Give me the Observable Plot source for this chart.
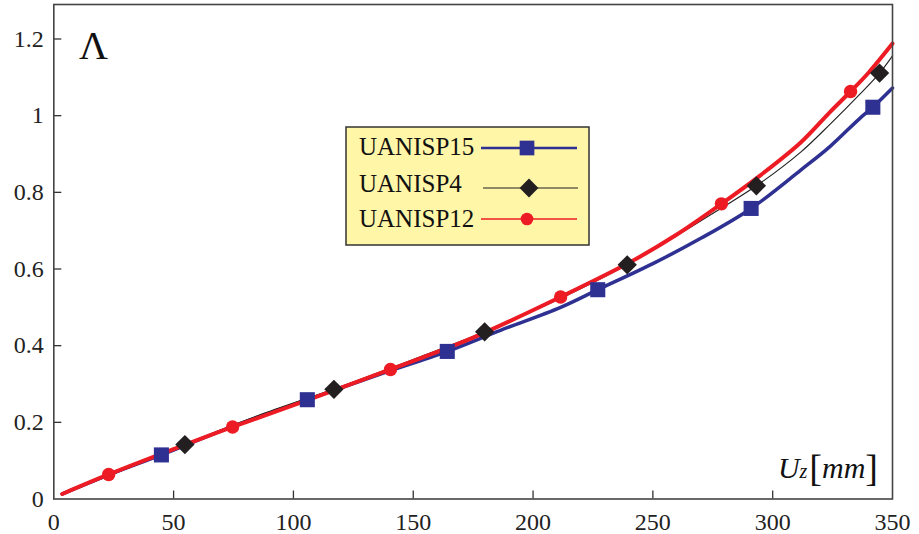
<!DOCTYPE html>
<html><head><meta charset="utf-8">
<script src="https://cdn.jsdelivr.net/npm/d3@7"></script>
<script src="https://cdn.jsdelivr.net/npm/@observablehq/plot@0.6"></script>
<style>
body{margin:0;background:#fff}
#chart{position:relative;width:919px;height:534px}
</style>
</head><body><div id="chart"></div>
<script>
// ---- data ----
const seriesNames = ["UANISP15", "UANISP4", "UANISP12"];

const uanisp15LineX = [3.5, 25, 44.9, 75, 105.8, 136, 164.2, 186.4, 211.5, 227, 250, 270, 291, 311.7, 324, 336.7, 341.8, 350];
const uanisp15LineY = [0.013, 0.068, 0.115, 0.190, 0.259, 0.325, 0.385, 0.440, 0.500, 0.546, 0.614, 0.680, 0.758, 0.858, 0.920, 0.995, 1.022, 1.072];
const uanisp15MarkX = [44.9, 105.8, 164.2, 227, 291, 341.8];
const uanisp15MarkY = [0.115, 0.259, 0.385, 0.546, 0.758, 1.022];

const uanisp4LineX = [3.5, 30, 54.7, 85, 116.9, 150, 179.8, 211, 239.3, 260, 275, 293.2, 311.7, 324, 336.7, 344.6, 350];
const uanisp4LineY = [0.013, 0.078, 0.142, 0.217, 0.287, 0.364, 0.436, 0.522, 0.611, 0.687, 0.745, 0.817, 0.905, 0.978, 1.058, 1.111, 1.156];
const uanisp4MarkX = [54.7, 116.9, 179.8, 239.3, 293.2, 344.6];
const uanisp4MarkY = [0.142, 0.286, 0.436, 0.611, 0.817, 1.111];

const uanisp12LineX = [3.5, 22.9, 50, 74.6, 105, 140.5, 175, 211.5, 240, 260, 278.6, 295, 311.7, 324, 332.5, 340, 350];
const uanisp12LineY = [0.013, 0.064, 0.130, 0.188, 0.256, 0.338, 0.421, 0.527, 0.616, 0.690, 0.770, 0.845, 0.930, 1.010, 1.063, 1.112, 1.188];
const uanisp12MarkX = [22.9, 74.6, 140.5, 211.5, 278.6, 332.5];
const uanisp12MarkY = [0.064, 0.188, 0.338, 0.527, 0.770, 1.063];

const xTicks = [0, 50, 100, 150, 200, 250, 300, 350];
const xTickLabels = ["0", "50", "100", "150", "200", "250", "300", "350"];
const yTicks = [0, 0.2, 0.4, 0.6, 0.8, 1, 1.2];
const yTickLabels = ["0", "0.2", "0.4", "0.6", "0.8", "1", "1.2"];

// ---- build tables ----
const zip = (xs, ys, s) => xs.map((x, i) => ({x, y: ys[i], series: s}));
const line15 = zip(uanisp15LineX, uanisp15LineY, seriesNames[0]);
const line4 = zip(uanisp4LineX, uanisp4LineY, seriesNames[1]);
const line12 = zip(uanisp12LineX, uanisp12LineY, seriesNames[2]);
const mark15 = zip(uanisp15MarkX, uanisp15MarkY, seriesNames[0]);
const mark4 = zip(uanisp4MarkX, uanisp4MarkY, seriesNames[1]);
const mark12 = zip(uanisp12MarkX, uanisp12MarkY, seriesNames[2]);

const BLUE = "#2e3192", BLACK = "#231f20", RED = "#ed1c24";
const W = 919, H = 534;
const mL = 53.3, mR = 27, mT = 4, mB = 35.5;
const frameW = W - mL - mR, frameH = H - mT - mB;
const FONT = "'Liberation Serif', 'Times New Roman', Times, serif";

const plot = Plot.plot({
  width: W, height: H,
  marginLeft: mL, marginRight: mR, marginTop: mT, marginBottom: mB,
  x: {domain: [0, 350], label: null},
  y: {domain: [0, 1.29], label: null},
  style: {fontFamily: FONT, fontSize: "24px", color: "#222", background: "#fff"},
  marks: [
    Plot.ruleX(xTicks.slice(1, -1), {x: d => d, insetTop: frameH - 8, stroke: "#333", strokeWidth: 1.3}),
    Plot.ruleY(yTicks.slice(1), {y: d => d, insetRight: frameW - 8, stroke: "#333", strokeWidth: 1.3}),
    Plot.axisX(xTicks, {tickSize: 0, tickPadding: 14, fontSize: 24, fill: "#222",
      tickFormat: d => xTickLabels[xTicks.indexOf(d)]}),
    Plot.axisY(yTicks, {tickSize: 0, tickPadding: 10, fontSize: 24, fill: "#222",
      tickFormat: d => yTickLabels[yTicks.indexOf(d)]}),
    Plot.line(line15, {x: "x", y: "y", stroke: BLUE, strokeWidth: 3.5, curve: "catmull-rom"}),
    Plot.line(line4, {x: "x", y: "y", stroke: BLACK, strokeWidth: 1.1, curve: "catmull-rom"}),
    Plot.line(line12, {x: "x", y: "y", stroke: RED, strokeWidth: 4, curve: "catmull-rom"}),
    Plot.dot(mark15, {x: "x", y: "y", symbol: "square", r: 8.5, fill: BLUE, stroke: "none"}),
    Plot.dot(mark4, {x: "x", y: "y", symbol: "diamond2", r: 8.7, fill: BLACK, stroke: "none"}),
    Plot.dot(mark12, {x: "x", y: "y", symbol: "circle", r: 6.7, fill: RED, stroke: "none"}),
    Plot.frame({stroke: "#444", strokeWidth: 1.6})
  ]
});

document.getElementById("chart").appendChild(plot);
const svg = d3.select(plot);

// Y axis symbol
svg.append("text").attr("x", 79).attr("y", 59).attr("text-anchor", "start")
  .attr("font-family", FONT).attr("font-size", 40).attr("fill", "#111").text("Λ");

// X axis label  U_z [mm]
const xl = svg.append("text").attr("x", 878).attr("y", 478).attr("text-anchor", "end")
  .attr("font-family", FONT).attr("font-size", 30).attr("fill", "#111");
xl.append("tspan").attr("font-style", "italic").text("U");
xl.append("tspan").attr("font-style", "italic").attr("font-size", 20).text("z");
xl.append("tspan").attr("font-size", 38).attr("dx", 2).attr("dy", 3).text("[");
xl.append("tspan").attr("font-style", "italic").attr("dy", -3).text("mm");
xl.append("tspan").attr("font-size", 38).attr("dy", 3).text("]");

// Legend
const lg = svg.append("g").attr("text-anchor", "start");
lg.append("rect").attr("x", 346).attr("y", 127).attr("width", 243).attr("height", 118)
  .attr("fill", "#fff6a8").attr("stroke", "#333").attr("stroke-width", 1.5);
const rows = [
  {name: seriesNames[0], color: BLUE, sw: 2.5, sym: d3.symbolSquare, r: 8.3, x1: 481, x2: 577, mx: 527, ly: 148, ty: 155},
  {name: seriesNames[1], color: BLACK, sw: 1.1, sym: d3.symbolDiamond2, r: 8.5, x1: 483, x2: 578, mx: 529, ly: 188, ty: 192},
  {name: seriesNames[2], color: RED, sw: 1.5, sym: d3.symbolCircle, r: 6.3, x1: 481, x2: 577, mx: 527, ly: 219, ty: 227}
];
rows.forEach(r => {
  lg.append("text").attr("x", 359).attr("y", r.ty).attr("text-anchor", "start").attr("font-family", FONT)
    .attr("font-size", 25).attr("fill", "#111").text(r.name);
  lg.append("line").attr("x1", r.x1).attr("x2", r.x2).attr("y1", r.ly).attr("y2", r.ly)
    .attr("stroke", r.color).attr("stroke-width", r.sw);
  lg.append("path").attr("transform", `translate(${r.mx},${r.ly})`)
    .attr("d", d3.symbol(r.sym, Math.PI * r.r * r.r)()).attr("fill", r.color);
});
</script>
</body></html>
